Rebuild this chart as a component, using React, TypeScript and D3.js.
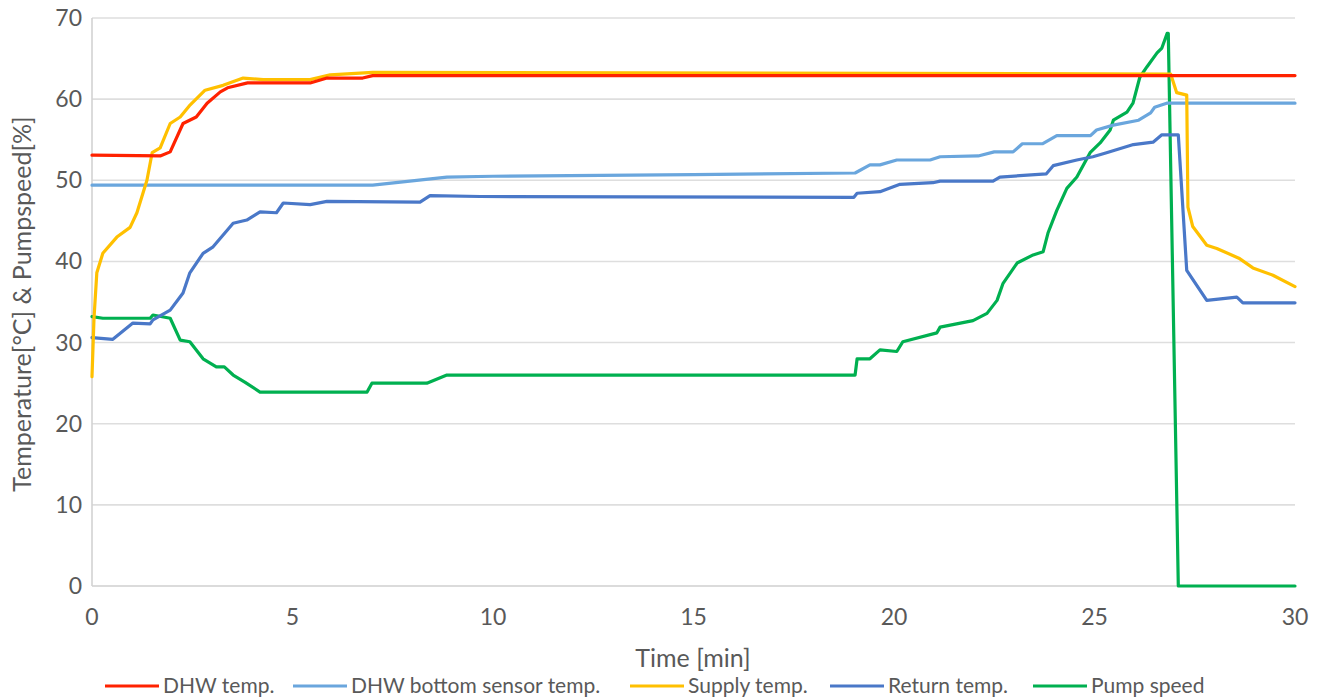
import React from "react";
import * as d3 from "d3";

const yTicks = [0, 10, 20, 30, 40, 50, 60, 70];
const xTicks = [0, 5, 10, 15, 20, 25, 30];

const dhwT = [0, 1.7, 1.95, 2.27, 2.6, 2.87, 3.2, 3.38, 3.88, 5.44, 5.86, 6.75, 7, 30];
const dhwV = [53.1, 53.0, 53.5, 57, 57.8, 59.5, 60.9, 61.4, 62, 62, 62.6, 62.6, 62.9, 62.9];

const bottomT = [0, 7, 8.85, 10, 15, 19.03, 19.4, 19.65, 20.07, 20.9, 21.15, 22.1, 22.5, 22.97, 23.2, 23.7, 24.06, 24.9, 25.05, 25.47, 26.1, 26.4, 26.5, 26.8, 30];
const bottomV = [49.4, 49.4, 50.4, 50.5, 50.7, 50.9, 51.9, 51.9, 52.5, 52.5, 52.9, 53, 53.5, 53.5, 54.5, 54.5, 55.5, 55.5, 56.2, 56.8, 57.4, 58.3, 59, 59.5, 59.5];

const supplyT = [0, 0.05, 0.12, 0.27, 0.62, 0.95, 1.12, 1.37, 1.5, 1.7, 1.95, 2.2, 2.45, 2.82, 3.27, 3.77, 4.27, 5.44, 5.94, 7, 26.9, 27.05, 27.3, 27.33, 27.45, 27.8, 28.05, 28.6, 28.95, 29.45, 30];
const supplyV = [25.8, 33, 38.6, 41, 43, 44.2, 46, 50, 53.4, 54, 57, 57.8, 59.3, 61.1, 61.7, 62.6, 62.4, 62.4, 63, 63.3, 63.1, 60.8, 60.5, 46.7, 44.3, 42, 41.6, 40.4, 39.2, 38.3, 36.9];

const returnT = [0, 0.52, 1.02, 1.45, 1.52, 1.95, 2.27, 2.44, 2.77, 3.02, 3.52, 3.86, 4.19, 4.6, 4.77, 5.44, 5.86, 8.18, 8.43, 9.68, 19.0, 19.08, 19.65, 20.15, 20.97, 21.15, 22.47, 22.64, 23.8, 23.97, 24.56, 24.96, 25.3, 25.97, 26.46, 26.68, 27.09, 27.3, 27.8, 28.55, 28.7, 30];
const returnV = [30.6, 30.4, 32.4, 32.3, 32.8, 34, 36.1, 38.6, 41, 41.8, 44.7, 45.1, 46.1, 46, 47.2, 47, 47.4, 47.3, 48.1, 48, 47.9, 48.4, 48.6, 49.5, 49.7, 49.9, 49.9, 50.4, 50.8, 51.8, 52.5, 52.9, 53.4, 54.4, 54.7, 55.6, 55.6, 38.9, 35.2, 35.6, 34.9, 34.9];

const pumpT = [0, 0.27, 1.45, 1.52, 1.95, 2.2, 2.44, 2.77, 3.1, 3.3, 3.52, 3.82, 4.19, 6.86, 6.98, 8.35, 8.85, 19.03, 19.08, 19.4, 19.65, 20.07, 20.22, 21.07, 21.15, 21.97, 22.32, 22.57, 22.72, 23.07, 23.47, 23.72, 23.84, 24.06, 24.31, 24.56, 24.89, 25.14, 25.39, 25.47, 25.81, 25.96, 26.13, 26.31, 26.56, 26.68, 26.81, 26.84, 27.09, 30];
const pumpV = [33.2, 33, 33, 33.4, 33, 30.3, 30.1, 28, 27, 27, 26, 25.1, 23.9, 23.9, 25, 25, 26, 26, 28, 28, 29.1, 28.9, 30.1, 31.2, 31.9, 32.7, 33.6, 35.2, 37.3, 39.8, 40.8, 41.2, 43.5, 46.3, 49, 50.4, 53.4, 54.6, 56.2, 57.4, 58.4, 59.5, 62.7, 64, 65.7, 66.3, 68.1, 68.1, 0, 0];

const seriesNames = ["DHW temp.", "DHW bottom sensor temp.", "Supply temp.", "Return temp.", "Pump speed"];
const seriesColors = ["#FF2200", "#6AA6DD", "#FFC000", "#4A78C8", "#00B050"];
const seriesT = [dhwT, bottomT, supplyT, returnT, pumpT];
const seriesV = [dhwV, bottomV, supplyV, returnV, pumpV];
const legendX = [105, 293, 630, 830, 1033];

const FONT = "Lato, 'Open Sans', sans-serif";
const TXT = "#595959";

export default function App() {
  const x = d3.scaleLinear().domain([0, 30]).range([92, 1295]);
  const y = d3.scaleLinear().domain([0, 70]).range([586, 18]);
  const line = d3
    .line<[number, number]>()
    .x((d) => x(d[0]))
    .y((d) => y(d[1]))
    .curve(d3.curveLinear);

  const drawOrder = [4, 1, 3, 2, 0];

  return (
    <svg
      width={1320}
      height={698}
      style={{ position: "absolute", left: 0, top: 0, display: "block", background: "#fff" }}
      fontFamily={FONT}
    >
      <rect x={0} y={0} width={1320} height={698} fill="#fff" />
      {yTicks.map((t) => (
        <line key={"g" + t} x1={x(0)} x2={x(30)} y1={y(t)} y2={y(t)} stroke={t === 0 ? "#cfcfcf" : "#dedede"} strokeWidth={1.6} />
      ))}
      <line x1={x(0)} x2={x(0)} y1={y(70)} y2={y(0)} stroke="#d2d2d2" strokeWidth={1.6} />
      {yTicks.map((t) => (
        <text key={"yl" + t} x={82} y={y(t)} dy="0.35em" textAnchor="end" fontSize={23} fill={TXT}>
          {t}
        </text>
      ))}
      {xTicks.map((t) => (
        <text key={"xl" + t} x={x(t)} y={617} dy="0.35em" textAnchor="middle" fontSize={23} fill={TXT}>
          {t}
        </text>
      ))}
      <text x={22} y={304} transform="rotate(-90 22 304)" dy="0.35em" textAnchor="middle" fontSize={25} fill={TXT}>
        Temperature[°C] &amp; Pumpspeed[%]
      </text>
      <text x={693} y={658} dy="0.35em" textAnchor="middle" fontSize={25} fill={TXT}>
        Time [min]
      </text>
      {drawOrder.map((i) => {
        const pts = seriesT[i].map((t, k) => [t, seriesV[i][k]] as [number, number]);
        return (
          <path
            key={"s" + i}
            d={line(pts) || ""}
            fill="none"
            stroke={seriesColors[i]}
            strokeWidth={3.2}
            strokeLinejoin="round"
            strokeLinecap="round"
          />
        );
      })}
      {seriesNames.map((n, i) => (
        <g key={"lg" + i}>
          <line x1={legendX[i]} x2={legendX[i] + 54} y1={686} y2={686} stroke={seriesColors[i]} strokeWidth={3.2} />
          <text x={legendX[i] + 58} y={686} dy="0.35em" fontSize={21} fill={TXT}>
            {n}
          </text>
        </g>
      ))}
    </svg>
  );
}
